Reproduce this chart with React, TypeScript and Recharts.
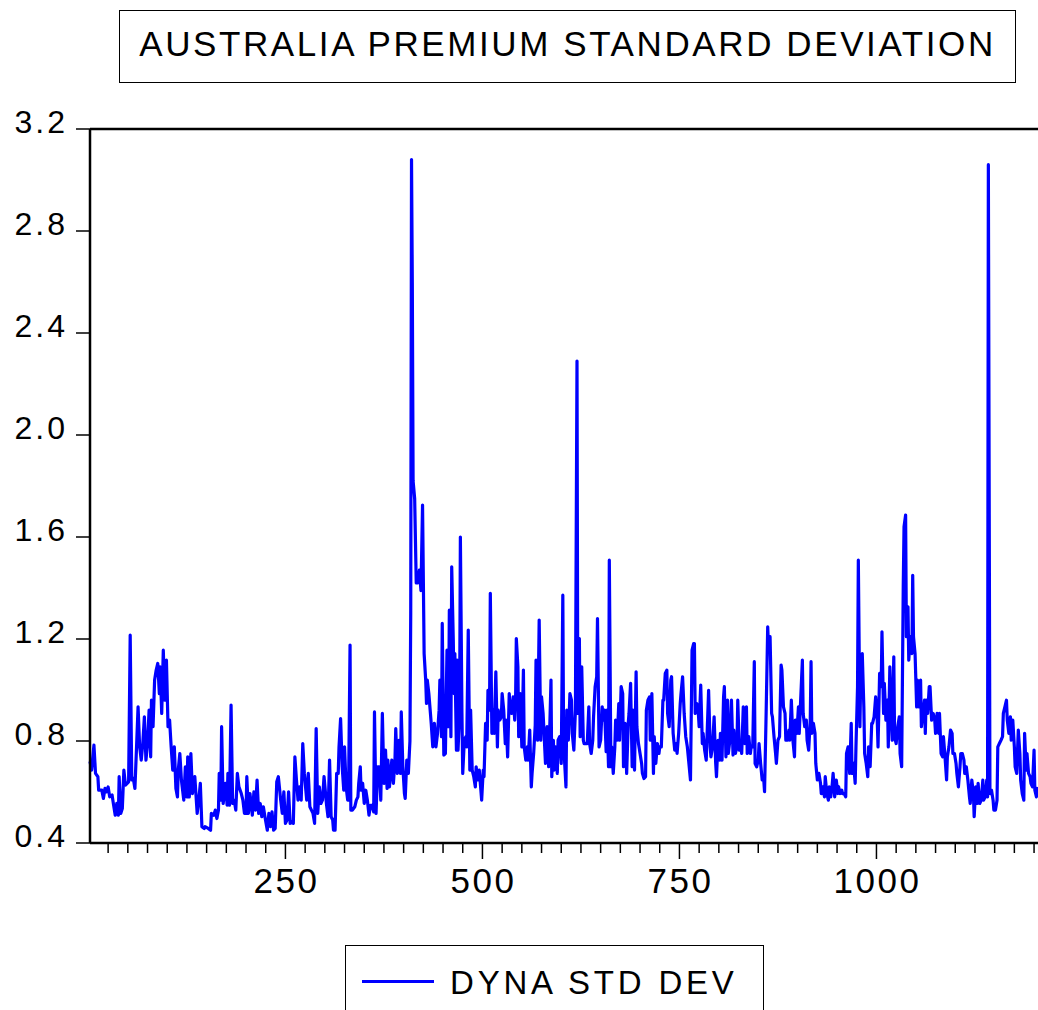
import { Line, LineChart, ReferenceLine, XAxis, YAxis } from 'recharts';

const TITLE = 'AUSTRALIA PREMIUM STANDARD DEVIATION';
const SERIES_NAME = 'DYNA STD DEV';
const FONT = '"Liberation Sans", Arial, Helvetica, sans-serif';
const BLUE = '#0000ff';

const segment1: [number, number][] = [
  [2, 0.72], [4, 0.686], [7, 0.784], [9, 0.673], [12, 0.66], [13, 0.607], [17, 0.607], [19, 0.575],
  [21, 0.614], [23, 0.601], [25, 0.62], [27, 0.581], [30, 0.588], [32, 0.548], [34, 0.509], [36, 0.555],
  [38, 0.509], [39, 0.66], [41, 0.516], [43, 0.535], [45, 0.686], [47, 0.627], [51, 0.64], [53, 1.215],
  [55, 0.647], [57, 0.653], [59, 0.614], [61, 0.771], [63, 0.934], [65, 0.777], [67, 0.725], [69, 0.79],
  [71, 0.895], [73, 0.725], [75, 0.79], [77, 0.921], [79, 0.738], [80, 0.96], [82, 0.856], [84, 1.039],
  [86, 1.078], [88, 1.104], [90, 0.986], [91, 1.091], [93, 0.908], [95, 1.156], [97, 0.96], [99, 1.117],
  [101, 0.856], [103, 0.882], [105, 0.777], [107, 0.686], [109, 0.777], [111, 0.614], [113, 0.581],
  [114, 0.686], [116, 0.751], [118, 0.647], [121, 0.568], [123, 0.699], [125, 0.581], [126, 0.738],
  [128, 0.581], [130, 0.751], [132, 0.594], [135, 0.66], [138, 0.516], [140, 0.568], [142, 0.634],
  [144, 0.464], [147, 0.457],
];

const segment2: [number, number][] = [
  [148, 0.464], [152, 0.457], [155, 0.45], [156, 0.516], [159, 0.509], [161, 0.529], [163, 0.496],
  [165, 0.529], [166, 0.673], [168, 0.568], [169, 0.856], [171, 0.555], [174, 0.634], [176, 0.548],
  [177, 0.673], [179, 0.548], [181, 0.941], [183, 0.555], [185, 0.568], [187, 0.529], [189, 0.673],
  [191, 0.62], [194, 0.594], [196, 0.568], [198, 0.516], [200, 0.516], [201, 0.66], [203, 0.516],
  [205, 0.594], [208, 0.509], [210, 0.601], [212, 0.529], [214, 0.647], [216, 0.516], [218, 0.555],
  [220, 0.503], [222, 0.542], [224, 0.503], [227, 0.45], [229, 0.516], [231, 0.464], [233, 0.522],
  [235, 0.45], [237, 0.457], [239, 0.64], [241, 0.66], [244, 0.568], [246, 0.516], [248, 0.601],
  [250, 0.477], [252, 0.49], [254, 0.601], [256, 0.477], [258, 0.483], [260, 0.477], [262, 0.738],
  [264, 0.647], [266, 0.568], [268, 0.62], [270, 0.568], [272, 0.79], [274, 0.673], [277, 0.568],
  [279, 0.673], [281, 0.542], [283, 0.529], [285, 0.516], [287, 0.477], [289, 0.849], [291, 0.516],
  [293, 0.62], [295, 0.555], [297, 0.568], [299, 0.66], [302, 0.555], [304, 0.503], [306, 0.725],
  [308, 0.503], [310, 0.49],
];

const segment3: [number, number][] = [
  [311, 0.45], [313, 0.45], [315, 0.673], [317, 0.673], [318, 0.777], [320, 0.888], [322, 0.699],
  [324, 0.607], [325, 0.777], [327, 0.62], [329, 0.568], [330, 0.568], [332, 1.176], [333, 0.529],
  [335, 0.529], [338, 0.542], [340, 0.568], [342, 0.581], [343, 0.634], [345, 0.699], [346, 0.607],
  [348, 0.634], [350, 0.555], [352, 0.607], [354, 0.568], [356, 0.509], [358, 0.548], [360, 0.548],
  [362, 0.522], [363, 0.914], [365, 0.516], [367, 0.699], [369, 0.699], [371, 0.568], [373, 0.908],
  [375, 0.634], [377, 0.764], [379, 0.614], [380, 0.725], [382, 0.62], [385, 0.725], [387, 0.634],
  [389, 0.725], [390, 0.849], [392, 0.673], [394, 0.803], [396, 0.673], [397, 0.914], [399, 0.699],
  [401, 0.594], [402, 0.575], [404, 0.725], [406, 0.673], [408, 0.8], [409, 1.3], [410, 3.08],
  [411, 2.6], [412, 1.82], [414, 1.75], [416, 1.42], [418, 1.42], [420, 1.47], [422, 1.39],
  [424, 1.725], [426, 1.143], [428, 1.039], [429, 0.947], [430, 1.039], [432, 0.986], [434, 0.908],
  [435, 0.869], [437, 0.777], [439, 0.869], [441, 0.777], [443, 0.83], [445, 0.921], [446, 1.039],
  [448, 0.817], [449, 1.261], [451, 0.745],
];

const segment4: [number, number][] = [
  [453, 0.751], [455, 1.156], [457, 0.856], [458, 1.313], [460, 0.817], [461, 1.483], [463, 1.196],
  [464, 0.986], [465, 1.143], [467, 0.764], [468, 1.117], [469, 0.764], [471, 0.908], [472, 1.6],
  [474, 0.908], [475, 0.673], [477, 0.803], [479, 0.817], [480, 0.777], [482, 1.235], [484, 0.686],
  [485, 0.921], [487, 0.686], [489, 0.66], [491, 0.62], [492, 0.699], [494, 0.647], [496, 0.686],
  [497, 0.647], [499, 0.568], [501, 0.686], [502, 0.66], [504, 0.869], [506, 0.803], [507, 0.999],
  [509, 0.921], [510, 1.379], [512, 0.83], [513, 0.921], [515, 0.83], [517, 1.071], [519, 0.777],
  [520, 0.921], [522, 0.882], [524, 0.895], [525, 0.986], [527, 0.921], [529, 0.79], [530, 0.882],
  [532, 0.738], [534, 0.986], [535, 0.934], [537, 0.908], [539, 0.973], [541, 0.882], [542, 0.947],
  [543, 1.202], [545, 1.091], [546, 0.817], [548, 0.986], [550, 0.777], [552, 1.078], [553, 0.777],
  [555, 0.725], [557, 0.777], [558, 0.725], [560, 0.843], [562, 0.62], [563, 0.673], [565, 0.751],
  [567, 0.862], [568, 1.117], [570, 0.803], [572, 1.274], [574, 0.803], [575, 0.973], [577, 0.908],
  [579, 0.777], [580, 0.712], [582, 0.856], [584, 0.699], [585, 0.803], [587, 1.039], [588, 0.66],
  [590, 0.803], [591, 0.686], [593, 0.777], [595, 0.673], [596, 0.803], [598, 0.817], [600, 0.712],
  [602, 1.372], [603, 0.79],
];

const segment5: [number, number][] = [
  [606, 0.62], [607, 0.921], [609, 0.803], [611, 0.986], [613, 0.96], [614, 0.83], [616, 0.764],
  [618, 0.921], [620, 2.29], [621, 0.908], [623, 1.202], [624, 0.817], [626, 1.091], [628, 0.803],
  [629, 0.79], [631, 0.79], [633, 0.79], [635, 0.934], [636, 0.79], [638, 0.751], [640, 0.803],
  [641, 0.895], [643, 1.013], [645, 1.052], [646, 1.28], [648, 0.777], [650, 0.803], [652, 0.934],
  [653, 0.882], [655, 0.921], [657, 0.758], [658, 0.921], [660, 0.699], [661, 1.509], [663, 0.699],
  [664, 0.777], [666, 0.673], [668, 0.777], [669, 0.882], [671, 0.803], [673, 0.947], [674, 0.803],
  [676, 1.013], [678, 0.986], [679, 0.699], [681, 0.869], [683, 0.673], [685, 0.869], [686, 0.908],
  [688, 1.026], [690, 0.699], [691, 0.921], [693, 0.686], [695, 1.071], [696, 0.856], [698, 0.79],
  [700, 0.751], [702, 0.712], [703, 0.673], [705, 0.653], [707, 0.66], [708, 0.921], [710, 0.96],
  [712, 0.973], [713, 0.803], [715, 0.986], [717, 0.673], [718, 0.817], [720, 0.712], [722, 0.79],
  [724, 0.751], [725, 0.777], [727, 0.777], [729, 0.96], [730, 0.96], [732, 1.065], [734, 1.078],
  [735, 0.908], [737, 0.856], [739, 1.039], [740, 1.052], [742, 0.83], [744, 0.764], [746, 0.79],
  [747, 0.751], [749, 0.83], [751, 0.947], [752, 0.986], [754, 1.052], [756, 0.908],
];

const segment6: [number, number][] = [
  [758, 0.817], [760, 0.777], [762, 0.712], [764, 0.647], [766, 1.156], [768, 1.182], [769, 1.182],
  [770, 0.908], [772, 0.947], [774, 0.908], [775, 0.856], [777, 1.019], [779, 0.79], [780, 0.83],
  [782, 0.764], [784, 0.725], [785, 0.817], [787, 0.999], [789, 0.777], [790, 0.738], [792, 0.777],
  [794, 0.895], [796, 0.712], [797, 0.66], [799, 0.803], [801, 0.725], [802, 0.83], [804, 0.725],
  [806, 0.973], [807, 1.013], [809, 0.738], [811, 0.96], [812, 0.751], [814, 0.803], [816, 0.96],
  [818, 0.745], [819, 0.843], [821, 0.751], [823, 0.777], [824, 0.96], [826, 0.764], [828, 0.777],
  [829, 0.751], [831, 0.934], [833, 0.79], [835, 0.934], [836, 0.751], [838, 0.817], [840, 0.751],
  [841, 0.777], [843, 0.777], [845, 1.111], [846, 0.712], [848, 0.699], [850, 0.725], [851, 0.79],
  [853, 0.712], [855, 0.647], [857, 0.647], [858, 0.601], [860, 0.908], [862, 1.248], [863, 1.17],
  [865, 1.209], [867, 0.908], [868, 0.895], [870, 0.817], [872, 0.751], [873, 0.712], [875, 0.803],
  [877, 0.817], [879, 1.098], [880, 1.078], [882, 0.934], [884, 0.908], [885, 0.803], [887, 0.803],
  [889, 0.843], [890, 0.803], [892, 0.96], [894, 0.803], [896, 0.738], [897, 0.882], [899, 0.83],
  [901, 0.934], [902, 0.83], [904, 0.973], [906, 1.117], [907, 0.908], [909, 0.856],
];

const segment7: [number, number][] = [
  [911, 0.882], [912, 0.803], [914, 0.764], [916, 0.882], [917, 1.111], [918, 0.83], [920, 0.869],
  [922, 0.83], [923, 0.712], [925, 0.647], [927, 0.673], [929, 0.634], [930, 0.594], [932, 0.62],
  [934, 0.581], [935, 0.66], [937, 0.594], [939, 0.568], [940, 0.62], [942, 0.581], [944, 0.634],
  [945, 0.673], [947, 0.581], [949, 0.647], [951, 0.594], [952, 0.62], [954, 0.594], [956, 0.607],
  [957, 0.594], [959, 0.594], [961, 0.581], [962, 0.751], [964, 0.777], [966, 0.673], [968, 0.869],
  [969, 0.673], [971, 0.712], [973, 0.634], [974, 0.777], [976, 1.013], [977, 1.509], [979, 0.856],
  [980, 1.039], [982, 1.143], [984, 0.934], [985, 0.751], [987, 0.712], [989, 0.66], [990, 0.777],
  [992, 0.699], [994, 0.869], [995, 0.869], [997, 0.895], [999, 0.973], [1001, 0.882], [1002, 0.777],
  [1004, 1.065], [1006, 1.013], [1007, 1.228], [1009, 0.908], [1010, 1.026], [1012, 0.882],
  [1014, 0.96], [1015, 0.777], [1017, 1.091], [1019, 0.882], [1020, 0.803], [1022, 1.13],
  [1023, 0.817], [1025, 0.79], [1027, 0.856], [1029, 0.895], [1030, 0.751], [1032, 0.699],
  [1034, 1.405], [1035, 1.64], [1037, 1.686], [1038, 1.209], [1040, 1.326], [1041, 1.117],
  [1043, 1.209], [1045, 1.143], [1046, 1.45], [1047, 1.209], [1049, 1.143], [1051, 0.934],
  [1052, 1.039], [1054, 0.934], [1056, 1.039], [1057, 0.856], [1059, 0.908], [1061, 0.96], [1062, 0.83],
];

const segment8: [number, number][] = [
  [1063, 0.96], [1065, 0.908], [1067, 1.013], [1068, 1.013], [1070, 0.882], [1072, 0.908],
  [1074, 0.882], [1075, 0.83], [1077, 0.908], [1079, 0.83], [1080, 0.908], [1082, 0.751],
  [1084, 0.738], [1085, 0.817], [1087, 0.738], [1089, 0.647], [1090, 0.738], [1092, 0.777],
  [1094, 0.843], [1096, 0.83], [1097, 0.751], [1099, 0.751], [1101, 0.712], [1102, 0.673],
  [1104, 0.62], [1106, 0.699], [1107, 0.751], [1109, 0.751], [1111, 0.725], [1112, 0.673],
  [1114, 0.699], [1116, 0.647], [1118, 0.581], [1119, 0.555], [1121, 0.647], [1123, 0.594],
  [1124, 0.503], [1126, 0.62], [1128, 0.555], [1129, 0.634], [1131, 0.555], [1133, 0.568],
  [1135, 0.647], [1136, 0.568], [1138, 0.581], [1140, 0.647], [1141, 0.581], [1142, 3.06],
  [1144, 0.594], [1146, 0.607], [1148, 0.568], [1149, 0.529], [1151, 0.529], [1153, 0.568],
  [1154, 0.777], [1156, 0.79], [1158, 0.803], [1160, 0.817], [1161, 0.908], [1163, 0.934],
  [1165, 0.96], [1166, 0.882], [1168, 0.83], [1170, 0.895], [1171, 0.803], [1173, 0.882],
  [1175, 0.777], [1176, 0.699], [1178, 0.673], [1180, 0.843], [1182, 0.751], [1183, 0.647],
  [1185, 0.594], [1187, 0.568], [1188, 0.83], [1190, 0.686], [1191, 0.751], [1193, 0.673],
  [1195, 0.66], [1196, 0.634], [1198, 0.62], [1200, 0.764], [1201, 0.607], [1203, 0.581], [1205, 0.62],
];

const yTicks = [0.4, 0.8, 1.2, 1.6, 2.0, 2.4, 2.8, 3.2];
const xLabelTicks = [250, 500, 750, 1000];
const xTicks = Array.from({ length: 48 }, (_, i) => (i + 1) * 25);
const xDomain: [number, number] = [2, 1205];

const data = [
  ...segment1, ...segment2, ...segment3, ...segment4,
  ...segment5, ...segment6, ...segment7, ...segment8,
].map(([obs, value]) => ({ obs, value }));

function XTick({ x, y, payload }: any) {
  const major = xLabelTicks.includes(payload.value);
  return (
    <g>
      <line x1={x} x2={x} y1={y} y2={y + (major ? 16 : 10)} stroke="#000" strokeWidth={1.5} />
      {major && (
        <text x={x + 1} y={y + 50} textAnchor="middle" fontSize={35} letterSpacing={2.5}
          fontFamily={FONT} fill="#000">
          {payload.value}
        </text>
      )}
    </g>
  );
}

function YTick({ x, y, payload }: any) {
  return (
    <g>
      <line x1={x - 14} x2={x} y1={y} y2={y} stroke="#000" strokeWidth={1.5} />
      <text x={x - 22} y={y + 4} textAnchor="end" fontSize={32} letterSpacing={3}
        fontFamily={FONT} fill="#000">
        {Number(payload.value).toFixed(1)}
      </text>
    </g>
  );
}

export default function App() {
  return (
    <div style={{ position: 'absolute', left: 0, top: 0, width: 1038, height: 1010, background: '#fff', overflow: 'hidden' }}>
      <div
        style={{
          position: 'absolute', left: 119, top: 10, width: 897, height: 73, boxSizing: 'border-box',
          border: '1.5px solid #000', paddingTop: 15, textAlign: 'center', fontFamily: FONT,
          fontSize: 35, lineHeight: '35px', letterSpacing: 2.6, color: '#000', whiteSpace: 'nowrap',
        }}
      >
        {TITLE}
      </div>

      <div style={{ position: 'absolute', left: 0, top: 0 }}>
        <LineChart width={1038} height={900} data={data} margin={{ top: 129, right: 0, bottom: 0, left: 0 }}>
          <XAxis
            dataKey="obs"
            type="number"
            domain={xDomain}
            ticks={xTicks}
            interval={0}
            height={57}
            tickSize={0}
            tickMargin={0}
            tickLine={false}
            axisLine={{ stroke: '#000', strokeWidth: 2.5 }}
            tick={<XTick />}
          />
          <YAxis
            type="number"
            domain={[0.4, 3.2]}
            ticks={yTicks}
            interval={0}
            width={90}
            tickSize={0}
            tickMargin={0}
            tickLine={false}
            axisLine={{ stroke: '#000', strokeWidth: 2.5 }}
            tick={<YTick />}
          />
          <ReferenceLine y={3.2} stroke="#000" strokeWidth={2.5} />
          <Line
            dataKey="value"
            type="linear"
            stroke={BLUE}
            strokeWidth={3.2}
            strokeLinejoin="round"
            dot={false}
            activeDot={false}
            isAnimationActive={false}
          />
        </LineChart>
      </div>

      <div
        style={{
          position: 'absolute', left: 345, top: 945, width: 419, height: 90, boxSizing: 'border-box',
          border: '1.5px solid #000', fontFamily: FONT, color: '#000',
        }}
      >
        <div style={{ position: 'absolute', left: 16, top: 34, width: 72, height: 3, background: BLUE }} />
        <div
          style={{
            position: 'absolute', left: 104, top: 20, fontSize: 33, lineHeight: '33px',
            letterSpacing: 3.8, whiteSpace: 'nowrap',
          }}
        >
          {SERIES_NAME}
        </div>
      </div>
    </div>
  );
}
